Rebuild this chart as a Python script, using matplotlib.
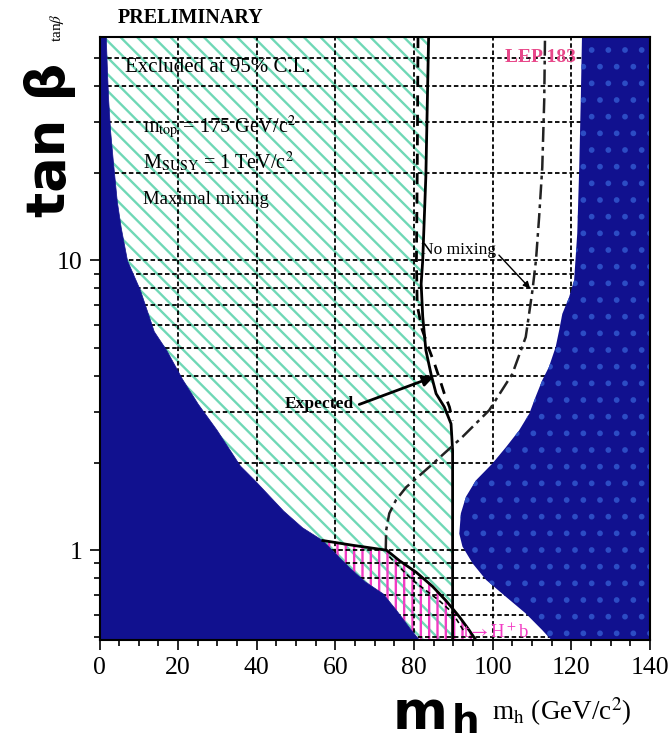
"""LEP 183 MSSM exclusion in the (m_h, tan beta) plane, maximal mixing."""

import matplotlib
matplotlib.use("Agg")
import matplotlib.pyplot as plt
from matplotlib.ticker import LogLocator, NullFormatter, FuncFormatter, MultipleLocator

# --- curves: (m_h [GeV/c^2], tan beta) ---
# theoretically inaccessible region, left edge
m_left = [1.6, 1.9, 2.2, 2.7, 3.4, 4.4, 5.4, 7.0, 10.3, 13.8, 17.0, 21.0, 25.0,
          29.8, 35.7, 39.5, 46.7, 51.5, 56.8, 59.8, 63.6, 67.5, 72.0, 75.5, 78.8, 81.3]
tan_left = [59, 45, 36, 28, 22, 16, 13, 10, 7.9, 5.7, 4.9, 3.9, 3.2,
            2.6, 1.96, 1.74, 1.37, 1.2, 1.08, 0.98, 0.87, 0.78, 0.71, 0.62, 0.54, 0.49]

# theoretically inaccessible region, right edge
m_right = [122.7, 122.4, 122.0, 121.5, 120.7, 119.4, 117.7, 116.9, 116.0, 114.3, 112.6,
           110.9, 109.3, 106.7, 103.4, 99.9, 95.7, 93.2, 91.9, 91.5, 92.3, 94.9, 98.3,
           103.4, 108.4, 112.6, 114.3, 115.0]
tan_right = [59, 36, 20.9, 12.4, 8.54, 7.45, 6.54, 5.74, 5.02, 4.29, 3.86,
             3.38, 2.96, 2.59, 2.27, 1.99, 1.74, 1.53, 1.34, 1.14, 1.03, 0.90, 0.79,
             0.69, 0.605, 0.53, 0.50, 0.49]

# observed 95% CL limit
m_obs = [83.7, 83.0, 82.2, 81.8, 82.2, 83.0, 84.3, 85.6, 87.7, 89.4, 89.8, 89.8]
tan_obs = [59, 19.6, 10, 8.3, 6.4, 4.9, 4.06, 3.47, 3.12, 2.73, 2.21, 0.49]

# expected limit
m_exp = [81.0, 80.8, 80.6, 80.8, 82.0, 83.9, 85.2, 86.5, 87.7, 89.0, 89.8]
tan_exp = [59, 20, 10, 7.0, 5.8, 4.9, 4.4, 3.9, 3.47, 3.12, 2.8]

# no mixing limit
m_nomix = [72.8, 72.9, 73.7, 75.4, 78.0, 83.9, 92.3, 99.1, 105.0, 108.4, 110.1,
           111.0, 111.8, 112.6, 113.1, 113.3]
tan_nomix = [1.0, 1.17, 1.34, 1.49, 1.65, 1.94, 2.46, 3.04, 4.06, 5.44, 7.87,
             10, 14.1, 20.9, 35.7, 59]

# t -> H+ b exclusion boundary (observed, expected)
m_hb = [56.8, 64.4, 73.0, 76.3, 80.5, 84.7, 88.1, 91.5, 94.0, 95.7]
tan_hb = [1.08, 1.04, 1.0, 0.92, 0.84, 0.75, 0.67, 0.59, 0.53, 0.49]
m_hb_exp = [73.7, 79.5, 86.4, 89.7, 92.5]
tan_hb_exp = [0.95, 0.79, 0.67, 0.61, 0.53]

X_MIN, X_MAX = 0, 140
Y_MIN, Y_MAX = 0.49, 59

NAVY = "#11118f"
DOTS = "#2c4cc4"
GREEN = "#6fd8b6"
MAGENTA = "#f23cc4"
PINK = "#e8488a"

plt.rcParams["font.family"] = ["Liberation Serif", "DejaVu Serif"]
plt.rcParams["mathtext.fontset"] = "stix"
plt.rcParams["hatch.linewidth"] = 1.7

W, H = 670, 744
fig = plt.figure(figsize=(W / 100, H / 100), dpi=100)
ax = fig.add_axes([99.5 / W, 104 / H, (650 - 99.5) / W, (640 - 37) / H])
ax.set_yscale("log")
ax.set_xlim(X_MIN, X_MAX)
ax.set_ylim(Y_MIN, Y_MAX)

# excluded at 95% CL (green hatch)
green_x = m_left + m_obs[::-1]
green_y = tan_left + tan_obs[::-1]
ax.fill(green_x, green_y, facecolor="none", edgecolor=GREEN, hatch="\\\\",
        linewidth=0, zorder=1)

# t -> H+ b excluded (magenta vertical hatch)
i0 = tan_left.index(1.08)
mag_x = m_hb + m_left[i0:][::-1]
mag_y = tan_hb + tan_left[i0:][::-1]
ax.fill(mag_x, mag_y, facecolor="none", edgecolor=MAGENTA, hatch="||",
        linewidth=0, zorder=1.2)

# theoretically inaccessible
ax.fill_betweenx(tan_left, X_MIN, m_left, facecolor=NAVY, edgecolor=NAVY,
                 linewidth=0.5, zorder=2)
ax.fill_betweenx(tan_right, m_right, X_MAX, facecolor=NAVY, edgecolor=DOTS,
                 hatch=".", linewidth=0, zorder=2)

# limit lines
ax.plot(m_obs, tan_obs, color="k", lw=2.0, zorder=3)
ax.plot(m_exp, tan_exp, color="k", lw=2.0, ls=(0, (4, 3)), zorder=3)
ax.plot(m_nomix, tan_nomix, color="#222222", lw=1.8, ls=(0, (6, 2, 1.5, 2)), zorder=3)
ax.plot(m_hb, tan_hb, color="k", lw=2.0, zorder=3)
ax.plot(m_hb_exp, tan_hb_exp, color="k", lw=1.2, ls=(0, (3, 2)), zorder=3)

# grid
ax.set_axisbelow("line")
ax.xaxis.set_major_locator(MultipleLocator(20))
ax.xaxis.set_minor_locator(MultipleLocator(5))
ax.yaxis.set_major_locator(LogLocator(base=10))
ax.yaxis.set_minor_locator(LogLocator(base=10, subs=range(2, 10)))
ax.yaxis.set_minor_formatter(NullFormatter())
ax.yaxis.set_major_formatter(FuncFormatter(lambda v, p: f"{v:g}"))
ax.xaxis.grid(True, which="major", color="k", lw=1.3, ls=(0, (2.5, 1.5)))
ax.yaxis.grid(True, which="both", color="k", lw=1.3, ls=(0, (2.5, 1.5)))

ax.tick_params(which="both", direction="out", width=1.2, labelsize=18.5)
ax.tick_params(which="major", length=7, pad=5)
ax.tick_params(which="minor", length=4)
for s in ax.spines.values():
    s.set_linewidth(1.5)

# annotations
ax.annotate("", xy=(110.0, 7.87), xytext=(101.1, 10.6),
            arrowprops=dict(arrowstyle="-|>", color="k", lw=1.0,
                            mutation_scale=10), zorder=4)
ax.annotate("", xy=(85.7, 4.0), xytext=(65.4, 3.16),
            arrowprops=dict(arrowstyle="-|>", color="k", lw=2.0,
                            mutation_scale=16), zorder=4)


def ftext(x, y, s, **kw):
    fig.text(x / W, 1 - y / H, s, **kw)


ftext(118, 18, "PRELIMINARY", fontsize=14.5, fontweight="bold", va="center")
ftext(125, 67, "Excluded at 95% C.L.", fontsize=15, va="center", zorder=5)
ftext(143, 127, r"m$_{\rm top}$ = 175 GeV/c$^2$", fontsize=14.5, va="center", zorder=5)
ftext(143, 162, r"M$_{\rm SUSY}$ = 1 TeV/c$^2$", fontsize=14.5, va="center", zorder=5)
ftext(143, 199, "Maximal mixing", fontsize=13.5, va="center", zorder=5)
ftext(505, 57, "LEP 183", fontsize=14, fontweight="bold", color=PINK, va="center")
ftext(421, 250, "No mixing", fontsize=12.5, va="center")
ftext(285, 404, "Expected", fontsize=12.5, fontweight="bold", va="center")
ftext(463, 632, r"t$\rightarrow$H$^+$b", fontsize=13.5, color=MAGENTA, va="center")

# axis titles
ftext(57, 28, r"tan$\beta$", fontsize=11, rotation=90, ha="center", va="center")
ftext(50, 140, "tan β", fontsize=38, fontweight="bold", rotation=90,
      family="DejaVu Sans", ha="center", va="center")
ftext(492, 712, r"m$_{\rm h}$ (GeV/c$^2$)", fontsize=19.5, va="center")
ftext(420, 714, "m", fontsize=38, fontweight="bold", family="DejaVu Sans",
      ha="center", va="center")
ftext(466, 722, "h", fontsize=28, fontweight="bold", family="DejaVu Sans",
      ha="center", va="center")

fig.savefig("out.png", dpi=100)
